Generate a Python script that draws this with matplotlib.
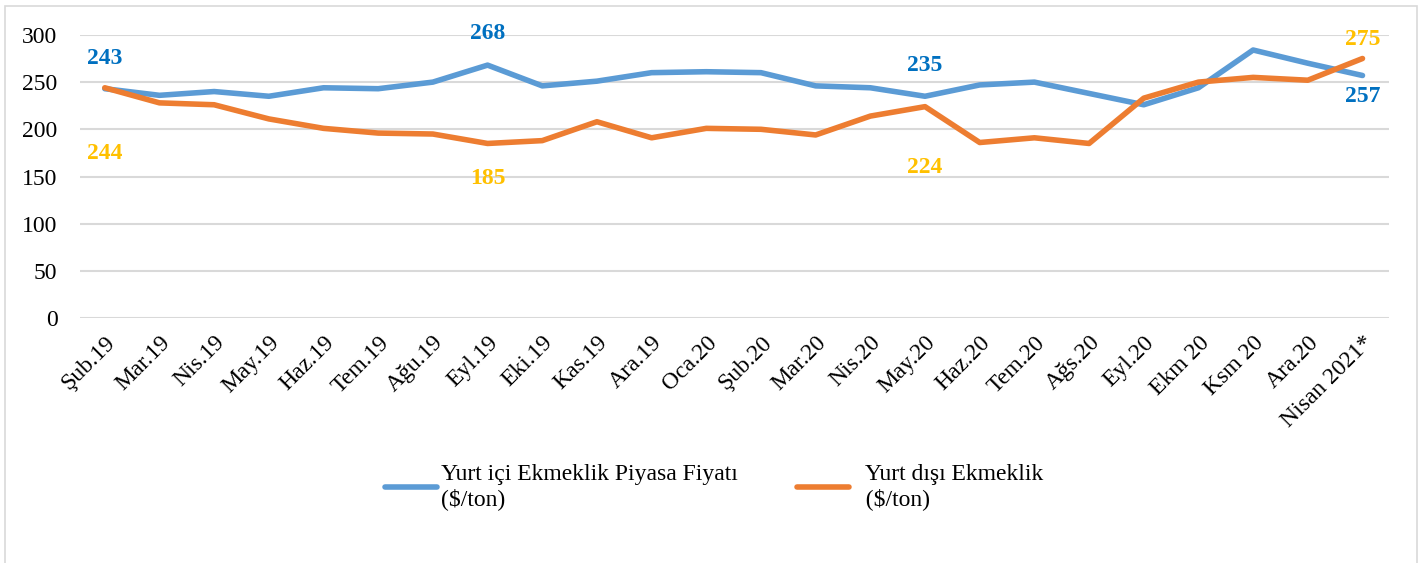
import matplotlib
matplotlib.use('Agg')
from matplotlib import pyplot as plt
from matplotlib.patches import Rectangle

# data
months = ['Şub.19', 'Mar.19', 'Nis.19', 'May.19', 'Haz.19', 'Tem.19', 'Ağu.19', 'Eyl.19',
          'Eki.19', 'Kas.19', 'Ara.19', 'Oca.20', 'Şub.20', 'Mar.20', 'Nis.20', 'May.20',
          'Haz.20', 'Tem.20', 'Ağs.20', 'Eyl.20', 'Ekm 20', 'Ksm 20', 'Ara.20', 'Nisan 2021*']
domestic = [243, 236, 240, 235, 244, 243, 250, 268, 246, 251, 260, 261, 260, 246, 244, 235,
            247, 250, 238, 226, 244, 284, 270, 257]
foreign = [244, 228, 226, 211, 201, 196, 195, 185, 188, 208, 191, 201, 200, 194, 214, 224,
           186, 191, 185, 233, 250, 255, 252, 275]
# which points carry a value label, and offsets (points) above/below
label_idx = [0, 7, 15, 23]
dom_offsets = [22, 23, 22, -15]
for_offsets = [-47, -25, -44, 14]

plt.rcParams['font.family'] = ['Liberation Serif', 'DejaVu Serif']

fig = plt.figure(figsize=(14.22, 5.63), dpi=100)
ax = fig.add_axes([0.056, 0.435, 0.921, 0.503])

x = list(range(len(months)))
ax.plot(x, domestic, color='#5B9BD5', lw=4, solid_capstyle='round', solid_joinstyle='round',
        label='Yurt içi Ekmeklik Piyasa Fiyatı\n($/ton)', zorder=3)
ax.plot(x, foreign, color='#ED7D31', lw=4, solid_capstyle='round', solid_joinstyle='round',
        label='  Yurt dışı Ekmeklik\n  ($/ton)', zorder=3)

for i, od, of in zip(label_idx, dom_offsets, for_offsets):
    ax.annotate(str(domestic[i]), (i, domestic[i]), xytext=(0, od),
                textcoords='offset points', ha='center', va='center',
                color='#0070C0', fontsize=17, fontweight='bold')
    ax.annotate(str(foreign[i]), (i, foreign[i]), xytext=(0, of),
                textcoords='offset points', ha='center', va='center',
                color='#FFC000', fontsize=17, fontweight='bold')

ax.set_ylim(0, 300)
ax.set_yticks(range(0, 301, 50))
ax.set_xlim(-0.46, 23.49)
ax.set_xticks(x)
ax.set_xticklabels(months, rotation=45, ha='right', rotation_mode='anchor', fontsize=17)
ax.tick_params(axis='y', labelsize=17, length=0, pad=16)
ax.tick_params(axis='x', length=0, pad=10)
ax.grid(axis='y', color='#D9D9D9', lw=1.5)
ax.set_axisbelow(True)
for s in ax.spines.values():
    s.set_visible(False)

fig.legend(loc='center', bbox_to_anchor=(0.502, 0.135), ncol=2, frameon=False,
           fontsize=17, handlelength=2.2, columnspacing=2.5, handletextpad=0.2)

fig.patches.append(Rectangle((0.0035, -0.01), 0.993, 1.0, transform=fig.transFigure,
                             fill=False, edgecolor='#D9D9D9', lw=1.2))

fig.savefig('out.png', dpi=100)
